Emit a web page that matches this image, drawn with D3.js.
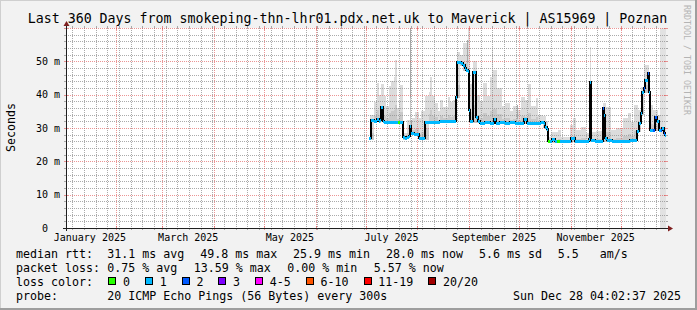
<!DOCTYPE html>
<html lang="en">

<head>
  <meta charset="UTF-8">
  <title>smokeping - Maverick | AS15969 | Poznan</title>
  <style>
    html, body { margin: 0; padding: 0; background: #f2f2f2; }
    svg { display: block; font-family: "DejaVu Sans Mono", monospace; }
    text { white-space: pre; }
  </style>
</head>

<body>

  <script src="https://cdn.jsdelivr.net/npm/d3@7/dist/d3.min.js"></script>
  <script>

    let width = 697
    let height = 310

    // window: 360 days that end at the probe time
    let endTime = new Date(Date.UTC(2025, 11, 28, 4, 2, 37))
    let spanDays = 360

    // median rtt: days since window start, ms, lost pings (of 20)
    let medDay = [181.8, 183.0, 184.8, 186.6, 187.8, 188.4, 189.0, 190.2, 190.8, 194.4,
      197.4, 199.2, 200.4, 202.2, 203.4, 204.6, 205.8, 206.4, 207.0, 208.8,
      211.2, 211.8, 214.2, 215.4, 218.4, 221.4, 224.4, 227.4, 230.4, 233.4,
      234.0, 234.6, 235.8, 237.0, 238.2, 239.4, 240.0, 241.2, 241.8, 242.4,
      243.6, 244.2, 245.4, 246.0, 247.2, 248.4, 251.4, 254.4, 256.8, 258.0,
      260.4, 263.4, 266.4, 269.4, 272.4, 274.8, 276.6, 281.4, 285.0, 286.8,
      287.4, 288.6, 289.2, 290.4, 291.6, 293.4, 294.6, 296.4, 299.4, 303.0,
      305.4, 308.4, 312.6, 313.8, 314.4, 315.0, 317.4, 320.4, 322.2, 322.8,
      323.4, 324.6, 327.6, 332.4, 335.4, 338.4, 340.8, 342.0, 342.6, 343.8,
      345.0, 345.6, 346.8, 347.4, 348.6, 349.2, 349.8, 350.4, 352.2, 353.4,
      354.6, 355.8, 357.0, 357.6, 358.8, 359.4]
    let medMs = [26.9, 32.4, 32.2, 32.6, 32.0, 32.4, 36.2, 32.2, 31.9, 31.9,
      31.9, 31.9, 31.9, 27.2, 26.9, 27.3, 27.6, 30.6, 28.4, 28.2,
      28.2, 26.9, 26.9, 31.9, 31.9, 31.9, 32.1, 32.1, 32.1, 32.1,
      39.4, 49.7, 49.9, 49.6, 49.0, 48.0, 47.4, 47.2, 35.4, 32.0,
      32.0, 46.9, 46.9, 33.2, 32.0, 31.6, 31.7, 31.5, 32.6, 31.6,
      31.7, 31.6, 31.7, 31.6, 31.6, 32.7, 31.6, 31.6, 31.9, 31.5,
      30.4, 29.6, 26.0, 26.2, 26.8, 26.1, 26.0, 26.0, 26.0, 26.9,
      26.1, 26.1, 26.1, 26.8, 43.9, 26.5, 26.1, 26.1, 35.9, 34.0,
      27.0, 26.3, 26.2, 26.1, 26.0, 26.3, 26.5, 26.4, 29.2, 31.6,
      34.4, 40.9, 41.9, 44.4, 44.4, 46.4, 40.9, 29.4, 29.4, 33.2,
      32.0, 29.4, 29.4, 29.9, 28.4, 28.0]
    let medLoss = [1, 1, 1, 1, 1, 1, 1, 1, 1, 1,
      1, 0, 1, 1, 1, 1, 1, 1, 1, 1,
      1, 1, 1, 1, 1, 1, 1, 1, 1, 1,
      1, 1, 1, 1, 1, 1, 1, 1, 1, 1,
      1, 1, 1, 1, 1, 1, 1, 1, 1, 1,
      1, 1, 1, 1, 1, 1, 1, 1, 1, 1,
      1, 1, 0, 1, 1, 1, 0, 1, 1, 1,
      1, 1, 1, 1, 1, 1, 1, 1, 2, 1,
      1, 1, 1, 1, 1, 1, 1, 1, 1, 1,
      1, 1, 2, 1, 1, 2, 1, 1, 2, 2,
      1, 1, 2, 1, 2, 1]

    // smoke (slowest ping): days since window start, ms
    let smokeDay = [182.4, 184.8, 186.6, 187.8, 189.0, 190.5, 192.0, 193.6, 195.0, 196.6,
      197.6, 198.6, 199.6, 200.6, 202.2, 204.6, 206.4, 207.0, 207.6, 209.6,
      211.6, 213.0, 215.2, 217.6, 218.6, 219.6, 221.6, 223.2, 224.4, 226.4,
      229.4, 230.4, 232.4, 233.4, 234.4, 236.4, 238.4, 240.4, 241.2, 242.4,
      244.0, 246.4, 248.4, 250.4, 252.4, 254.4, 255.4, 256.4, 258.4, 261.4,
      263.4, 266.4, 268.4, 270.4, 271.2, 273.2, 275.2, 277.2, 279.2, 282.2,
      283.2, 286.2, 288.0, 289.2, 291.2, 295.2, 297.2, 302.2, 304.2, 306.2,
      309.2, 312.0, 314.1, 315.0, 318.0, 322.0, 324.0, 327.0, 330.0, 334.0,
      337.0, 339.0, 341.0, 343.0, 345.0, 347.0, 350.0, 352.0, 355.0, 358.0]
    let smokeMax = [34, 37.9, 43.4, 40, 43.1, 39.5, 36.6, 42.5, 44, 45.4,
      50.4, 36, 38, 43, 28.5, 32.5, 62, 32.5, 33, 34.9,
      33, 35, 39.5, 40.9, 45.4, 39.5, 37.5, 35, 38.4, 36.4,
      39.4, 37.9, 38.4, 36, 52.9, 52, 55.4, 56.4, 59.8, 43.3,
      50, 39.9, 38, 43.4, 39.5, 45.4, 54.4, 47.4, 41.9, 36.5,
      37.5, 35, 36.5, 37, 35.4, 39.4, 38.4, 43.3, 36.5, 39,
      34, 33.5, 32, 27.4, 28.9, 29.4, 27.4, 30.9, 33, 29.4,
      30.4, 28.5, 54.4, 28.9, 29, 37.4, 36.4, 29.4, 30, 32.9,
      34.4, 31.9, 36.9, 35.4, 42.4, 48.9, 37, 35.5, 34, 30]

    // last, still incomplete step of the window
    let pendingSpan = [356.4, 360]

    let yTicks = [0, 10, 20, 30, 40, 50]
    let yTickLabels = ['0  ', '10 m', '20 m', '30 m', '40 m', '50 m']
    let xTickMonths = ['2025-01', '2025-03', '2025-05', '2025-07', '2025-09', '2025-11']
    let xTickLabels = ['January 2025', 'March 2025', 'May 2025', 'July 2025', 'September 2025', 'November 2025']

    let lossLabels = ['0', '1', '2', '3', '4-5', '6-10', '11-19', '20/20']
    let lossColors = ['#26ff00', '#00b8ff', '#0059ff', '#7e00ff', '#ff00ff', '#ff5500', '#ff0000', '#a10000']

    let rttStats = ['31.1 ms avg', '49.8 ms max', '25.9 ms min', '28.0 ms now', '5.6 ms sd', '5.5   am/s']
    let lossStats = ['0.75 % avg', '13.59 % max', '0.00 % min', '5.57 % now']
    let probeText = '20 ICMP Echo Pings (56 Bytes) every 300s'
    let dateText = 'Sun Dec 28 04:02:37 2025'
    let title = 'Last 360 Days from smokeping-thn-lhr01.pdx.net.uk to Maverick | AS15969 | Poznan'

    // ---- layout
    let X0 = 66, X1 = 666, Y0 = 228, Y1 = 28
    let DAY = 86400000
    let startTime = new Date(endTime - spanDays * DAY)
    let toDate = d => new Date(+startTime + d * DAY)

    let x = d3.scaleUtc().domain([startTime, endTime]).range([X0, X1])
    let y = d3.scaleLinear().domain([0, 60]).range([Y0, Y1])

    let svg = d3.select('body').append('svg')
      .attr('width', width)
      .attr('height', height)

    svg.append('rect').attr('width', width).attr('height', height).attr('fill', '#f2f2f2')
    // shaded frame
    svg.append('path').attr('d', `M0,${height} V0 H${width}`).attr('fill', 'none')
      .attr('stroke', '#cfcfcf').attr('stroke-width', 2)
    svg.append('path').attr('d', `M0,${height - 1} H${width - 1} V0`).attr('fill', 'none')
      .attr('stroke', '#9e9e9e').attr('stroke-width', 2)

    svg.append('rect').attr('x', X0).attr('y', Y1).attr('width', X1 - X0).attr('height', Y0 - Y1).attr('fill', '#fff')

    svg.append('clipPath').attr('id', 'plot')
      .append('rect').attr('x', X0).attr('y', Y1).attr('width', X1 - X0).attr('height', Y0 - Y1)

    let plot = svg.append('g').attr('clip-path', 'url(#plot)')

    // pending span
    plot.append('rect')
      .attr('x', x(toDate(pendingSpan[0])))
      .attr('width', x(toDate(pendingSpan[1])) - x(toDate(pendingSpan[0])))
      .attr('y', Y1).attr('height', Y0 - Y1)
      .attr('fill', '#e2e2e2')

    // smoke
    function medAt(d) {
      let i = d3.bisectRight(medDay, d) - 1
      return medMs[Math.max(0, i)]
    }
    function medMinIn(a, b) {
      let m = medAt(a)
      medDay.forEach((d, i) => { if (d > a && d < b) m = Math.min(m, medMs[i]) })
      return m
    }
    let smoke = smokeDay.map((d, i) => {
      let e = i < smokeDay.length - 1 ? smokeDay[i + 1] : spanDays
      let lo = medMinIn(d, e) - 0.4
      return { x0: x(toDate(d)), x1: x(toDate(e)), lo: lo, hi: smokeMax[i] }
    })
    // narrow outliers read darker, as the rrd smoke does
    plot.selectAll('rect.smoke').data(smoke).enter().append('rect')
      .attr('class', 'smoke')
      .attr('x', d => Math.round(d.x0)).attr('width', d => Math.max(1, Math.round(d.x1) - Math.round(d.x0)))
      .attr('y', d => y(d.hi)).attr('height', d => y(d.lo) - y(d.hi))
      .attr('fill', d => d.x1 - d.x0 < 1.5 ? '#a8a8a8' : '#dcdcdc').attr('shape-rendering', 'crispEdges')
    plot.selectAll('rect.smoke2').data(smoke).enter().append('rect')
      .attr('class', 'smoke2')
      .attr('x', d => Math.round(d.x0)).attr('width', d => Math.max(1, Math.round(d.x1) - Math.round(d.x0)))
      .attr('y', d => y(d.lo + (d.hi - d.lo) * 0.28)).attr('height', d => y(d.lo) - y(d.lo + (d.hi - d.lo) * 0.28))
      .attr('fill', '#c9c9c9').attr('shape-rendering', 'crispEdges')

    // grid
    let gridCol = 'rgba(143,143,143,0.75)'
    let mgridCol = 'rgba(222,79,79,0.6)'
    let grid = svg.append('g').attr('shape-rendering', 'crispEdges')

    let months = d3.utcMonth.range(startTime, endTime)
    let weeks = d3.utcMonday.range(startTime, endTime)
      .filter(w => months.every(m => Math.abs(x(m) - x(w)) > 1))

    let minorY = d3.range(2, 60, 2).filter(v => v % 10 !== 0)
    minorY.forEach(v => {
      let yy = Math.round(y(v)) + 0.5
      grid.append('line').attr('x1', X0).attr('x2', X1).attr('y1', yy).attr('y2', yy)
        .attr('stroke', gridCol).attr('stroke-dasharray', '1,1')
      grid.append('line').attr('x1', X0 - 2).attr('x2', X0).attr('y1', yy).attr('y2', yy).attr('stroke', gridCol)
      grid.append('line').attr('x1', X1).attr('x2', X1 + 2).attr('y1', yy).attr('y2', yy).attr('stroke', gridCol)
    })
    weeks.forEach(w => {
      let xx = Math.round(x(w)) + 0.5
      grid.append('line').attr('x1', xx).attr('x2', xx).attr('y1', Y1).attr('y2', Y0)
        .attr('stroke', gridCol).attr('stroke-dasharray', '1,1')
      grid.append('line').attr('x1', xx).attr('x2', xx).attr('y1', Y0).attr('y2', Y0 + 2).attr('stroke', gridCol)
      grid.append('line').attr('x1', xx).attr('x2', xx).attr('y1', Y1 - 2).attr('y2', Y1).attr('stroke', gridCol)
    })
    yTicks.concat([60]).forEach(v => {
      if (v === 0) return
      let yy = Math.round(y(v)) + 0.5
      grid.append('line').attr('x1', X0).attr('x2', X1).attr('y1', yy).attr('y2', yy)
        .attr('stroke', mgridCol).attr('stroke-dasharray', '1,1')
      grid.append('line').attr('x1', X0 - 2).attr('x2', X0 + 2).attr('y1', yy).attr('y2', yy).attr('stroke', mgridCol)
      grid.append('line').attr('x1', X1 - 2).attr('x2', X1 + 2).attr('y1', yy).attr('y2', yy).attr('stroke', mgridCol)
    })
    months.forEach(m => {
      let xx = Math.round(x(m)) + 0.5
      grid.append('line').attr('x1', xx).attr('x2', xx).attr('y1', Y1).attr('y2', Y0)
        .attr('stroke', mgridCol).attr('stroke-dasharray', '1,1')
      grid.append('line').attr('x1', xx).attr('x2', xx).attr('y1', Y0 - 2).attr('y2', Y0 + 2).attr('stroke', mgridCol)
      grid.append('line').attr('x1', xx).attr('x2', xx).attr('y1', Y1 - 2).attr('y2', Y1 + 2).attr('stroke', mgridCol)
    })

    // median line, snapped to whole pixels
    let medPts = medDay.map((d, i) => [Math.round(x(toDate(d))), Math.round(y(medMs[i]))])
    medPts.push([Math.round(x(endTime)), Math.round(y(medMs[medMs.length - 1]))])
    let line = d3.line().curve(d3.curveStepAfter)
    svg.append('g').attr('clip-path', 'url(#plot)')
      .append('path').attr('d', line(medPts))
      .attr('fill', 'none').attr('stroke', '#000').attr('stroke-width', 2)
      .attr('shape-rendering', 'crispEdges')

    let lossIndex = n => n <= 3 ? n : n <= 5 ? 4 : n <= 10 ? 5 : n <= 19 ? 6 : 7
    let segs = medDay.map((d, i) => {
      let e = i < medDay.length - 1 ? medDay[i + 1] : spanDays
      return { x0: x(toDate(d)), x1: x(toDate(e)), v: medMs[i], loss: medLoss[i] }
    })
    svg.append('g').attr('clip-path', 'url(#plot)')
      .selectAll('rect').data(segs).enter().append('rect')
      .attr('x', d => Math.round(d.x0))
      .attr('width', d => Math.max(1, Math.round(d.x1) - Math.round(d.x0)))
      .attr('y', d => Math.round(y(d.v)) - 1)
      .attr('height', 3)
      .attr('fill', d => lossColors[lossIndex(d.loss)])
      .attr('shape-rendering', 'crispEdges')

    // axes
    svg.append('line').attr('x1', X0 - 3).attr('x2', X1 + 3).attr('y1', Y0 + 0.5).attr('y2', Y0 + 0.5)
      .attr('stroke', '#1f1f1f').attr('shape-rendering', 'crispEdges')
    svg.append('line').attr('x1', X0 + 0.5).attr('x2', X0 + 0.5).attr('y1', Y0 + 3).attr('y2', Y1 - 3)
      .attr('stroke', '#1f1f1f').attr('shape-rendering', 'crispEdges')
    svg.append('path').attr('d', `M${X1 + 2},${Y0 - 2.5} L${X1 + 7},${Y0 + 0.5} L${X1 + 2},${Y0 + 3.5} Z`).attr('fill', '#7f1f1f')
    svg.append('path').attr('d', `M${X0 - 2.5},${Y1 - 2} L${X0 + 0.5},${Y1 - 7} L${X0 + 3.5},${Y1 - 2} Z`).attr('fill', '#7f1f1f')

    // y labels
    svg.selectAll('text.ylab').data(yTicks).enter().append('text')
      .attr('class', 'ylab')
      .attr('x', 60).attr('y', d => y(d)).attr('dy', '0.35em')
      .attr('text-anchor', 'end').attr('font-size', '10px').attr('fill', '#000')
      .text((d, i) => yTickLabels[i])

    // x labels, centred on the month
    let parseMonth = d3.utcParse('%Y-%m')
    svg.selectAll('text.xlab').data(xTickMonths).enter().append('text')
      .attr('class', 'xlab')
      .attr('x', d => {
        let m = parseMonth(d)
        return (x(m) + x(d3.utcMonth.offset(m, 1))) / 2
      })
      .attr('y', 241).attr('text-anchor', 'middle').attr('font-size', '10px')
      .text((d, i) => xTickLabels[i])

    // title and side texts
    svg.append('text').attr('x', 347.5).attr('y', 22.5).attr('text-anchor', 'middle')
      .attr('font-size', '13.29px').text(title)
    svg.append('text').attr('transform', 'translate(14.5,127.5) rotate(-90)')
      .attr('text-anchor', 'middle').attr('font-size', '11.63px').text('Seconds')
    svg.append('text').attr('transform', 'translate(684,5) rotate(90)')
      .attr('font-size', '8.3px').attr('fill', '#b4b4b4').text('RRDTOOL / TOBI OETIKER')

    // legend
    let cw = 7
    let lf = '11.63px'
    let rows = [258, 272, 286, 300]
    let leg = svg.append('g').attr('font-size', lf)
    leg.append('text').attr('x', 16).attr('y', rows[0]).text('median rtt:')
    leg.append('text').attr('x', 16).attr('y', rows[1]).text('packet loss:')
    leg.append('text').attr('x', 16).attr('y', rows[2]).text('loss color:')
    leg.append('text').attr('x', 16).attr('y', rows[3]).text('probe:')

    let lx = 107.3
    rttStats.forEach(s => {
      leg.append('text').attr('x', lx).attr('y', rows[0]).text(s)
      lx += s.length * cw + 15.9
    })
    lx = 107.3
    lossStats.forEach(s => {
      leg.append('text').attr('x', lx).attr('y', rows[1]).text(s)
      lx += s.length * cw + 16.5
    })
    lx = 108.3
    lossLabels.forEach((s, i) => {
      leg.append('rect').attr('x', lx + 0.5).attr('y', 277.5).attr('width', 7).attr('height', 7)
        .attr('fill', lossColors[i]).attr('stroke', '#000').attr('shape-rendering', 'crispEdges')
      leg.append('text').attr('x', lx + 14.7).attr('y', rows[2]).text(s)
      lx += 14.7 + s.length * cw + 15
    })
    leg.append('text').attr('x', 107.3).attr('y', rows[3]).text(probeText)
    leg.append('text').attr('x', 681).attr('y', rows[3]).attr('text-anchor', 'end').text(dateText)
  </script>
</body>

</html>
